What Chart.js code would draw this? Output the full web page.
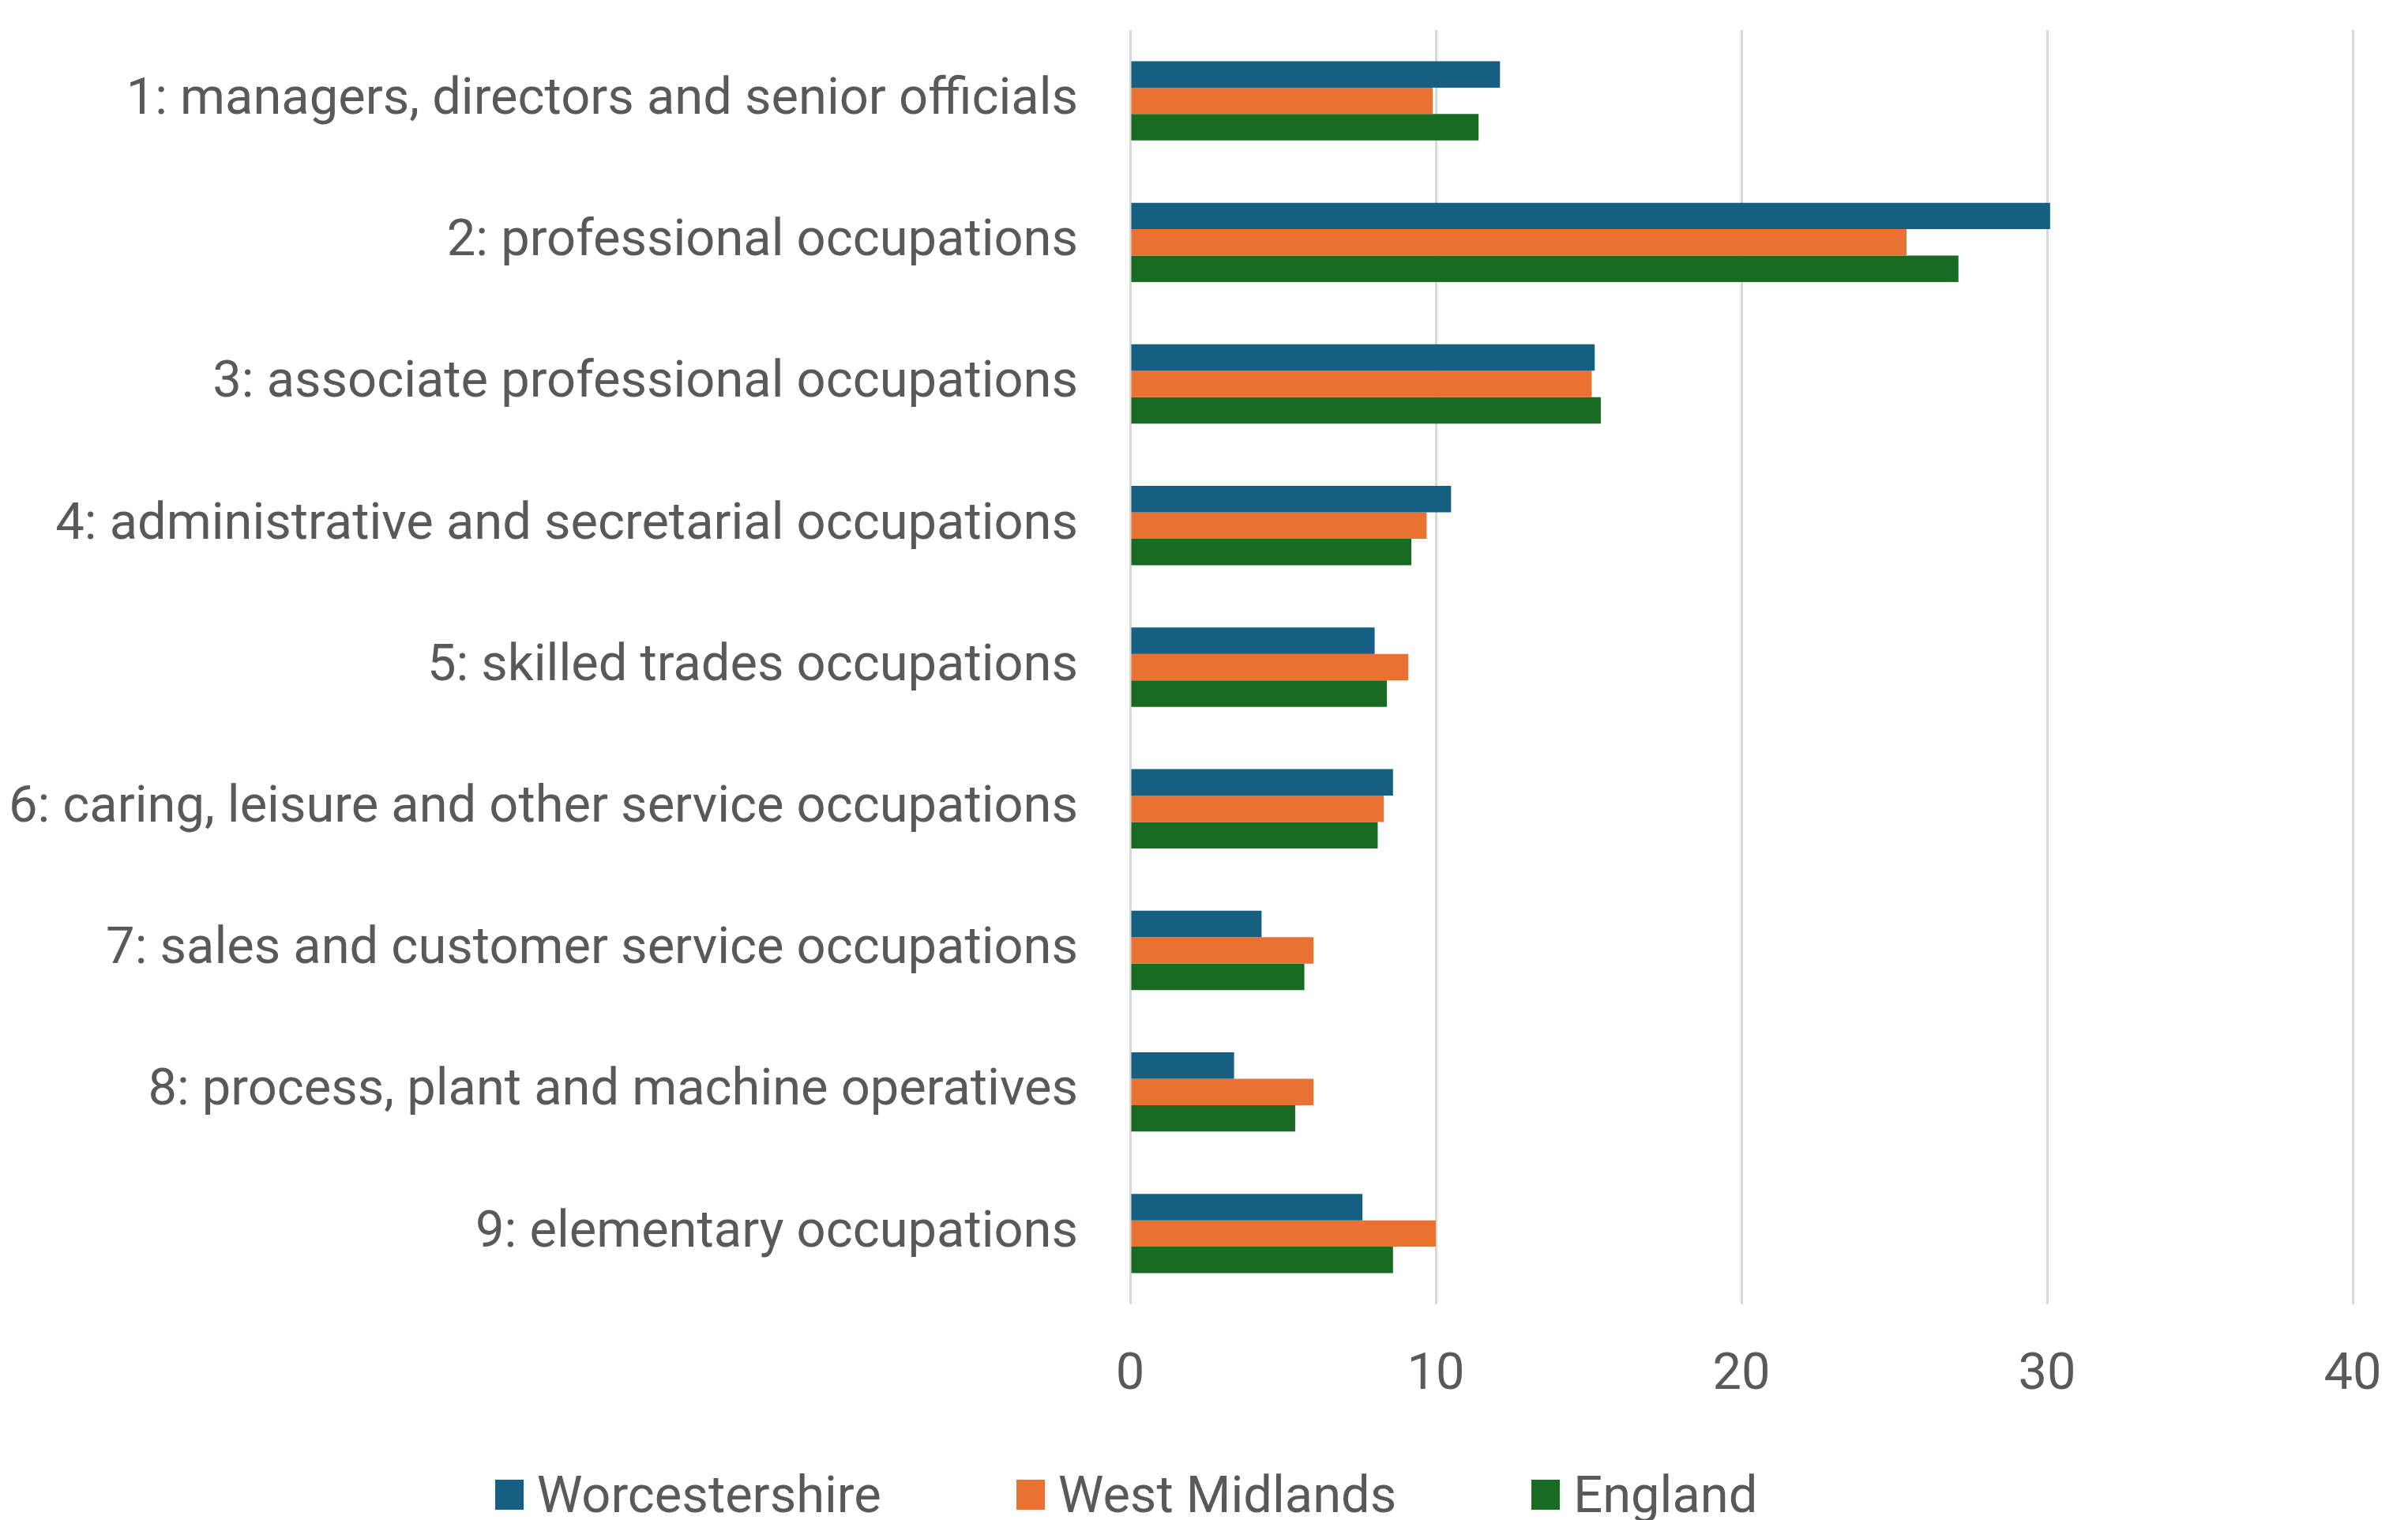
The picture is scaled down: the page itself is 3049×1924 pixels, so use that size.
<!DOCTYPE html>
<html>
<head>
<meta charset="utf-8">
<title>Occupation mix – Worcestershire, West Midlands, England</title>
<script src="https://cdn.jsdelivr.net/npm/chart.js@4.4.1/dist/chart.umd.min.js"></script>
<style>
  html, body { margin: 0; padding: 0; background: #ffffff; }
  #wrap { position: relative; width: 3049px; height: 1924px; overflow: hidden; }
  #occChart { position: absolute; left: 0; top: 0; }
  #legend {
    position: absolute; left: 0; width: 2852px; top: 1856px;
    display: flex; justify-content: center; align-items: center; gap: 171px;
    font-family: Roboto, sans-serif; font-size: 65px; line-height: 72px; color: #595959;
  }
  #legend .item { display: flex; align-items: center; }
  #legend .swatch { display: inline-block; width: 36px; height: 38px; margin-right: 17px; }
</style>
</head>
<body>
<div id="wrap">
  <canvas id="occChart" width="3049" height="1924"></canvas>
  <div id="legend"></div>
</div>
<script>
// occupation groups (SOC major groups), top to bottom
const occupations = [
    '1: managers, directors and senior officials',
    '2: professional occupations',
    '3: associate professional occupations',
    '4: administrative and secretarial occupations',
    '5: skilled trades occupations',
    '6: caring, leisure and other service occupations',
    '7: sales and customer service occupations',
    '8: process, plant and machine operatives',
    '9: elementary occupations'
];

// share of residents in employment, %
const worcestershire = [12.1, 30.1, 15.2, 10.5, 8.0, 8.6, 4.3, 3.4, 7.6];
const westMidlands   = [9.9, 25.4, 15.1, 9.7, 9.1, 8.3, 6.0, 6.0, 10.0];
const england        = [11.4, 27.1, 15.4, 9.2, 8.4, 8.1, 5.7, 5.4, 8.6];

const xTicks = [0, 10, 20, 30, 40];

const textColor = '#595959';
const fontFamily = 'Roboto, sans-serif';
const fontSize = 65;

const ctx = document.getElementById('occChart').getContext('2d');
const occChart = new Chart(ctx, {
    type: 'bar',
    data: {
        labels: occupations,
        datasets: [
            { label: 'Worcestershire', data: worcestershire, backgroundColor: '#156082' },
            { label: 'West Midlands', data: westMidlands, backgroundColor: '#E97132' },
            { label: 'England', data: england, backgroundColor: '#196B24' }
        ]
    },
    options: {
        indexAxis: 'y',
        responsive: false,
        animation: false,
        layout: {
            padding: { top: 38, right: 70, bottom: 91, left: 0 }
        },
        datasets: {
            bar: { categoryPercentage: 0.56, barPercentage: 1.0 }
        },
        scales: {
            x: {
                min: xTicks[0],
                max: xTicks[xTicks.length - 1],
                afterBuildTicks: (scale) => { scale.ticks = xTicks.map(v => ({ value: v })); },
                afterFit: (scale) => { scale.paddingLeft = 0; scale.paddingRight = 0; },
                grid: { color: '#D9D9D9', lineWidth: 3, drawTicks: false, tickLength: 0 },
                border: { display: false },
                ticks: {
                    color: textColor,
                    padding: 52,
                    font: { family: fontFamily, size: fontSize }
                }
            },
            y: {
                grid: { display: false, drawTicks: false },
                border: { display: false },
                // fixed axis width so the plot starts at the same x whatever the label widths;
                // drop the tick padding the scale adds above and below the plot
                afterFit: (scale) => {
                    scale.width = 1431;
                    scale.paddingTop = 0;
                    scale.paddingBottom = 0;
                },
                ticks: {
                    color: textColor,
                    padding: 66,
                    autoSkip: false,
                    font: { family: fontFamily, size: fontSize }
                }
            }
        },
        plugins: {
            legend: { display: false },
            tooltip: { enabled: false }
        }
    }
});

// legend drawn as html under the chart, from the chart's own datasets
const legendEl = document.getElementById('legend');
occChart.data.datasets.forEach(ds => {
    const item = document.createElement('span');
    item.className = 'item';
    const swatch = document.createElement('span');
    swatch.className = 'swatch';
    swatch.style.background = ds.backgroundColor;
    item.appendChild(swatch);
    item.appendChild(document.createTextNode(ds.label));
    legendEl.appendChild(item);
});
</script>
</body>
</html>
